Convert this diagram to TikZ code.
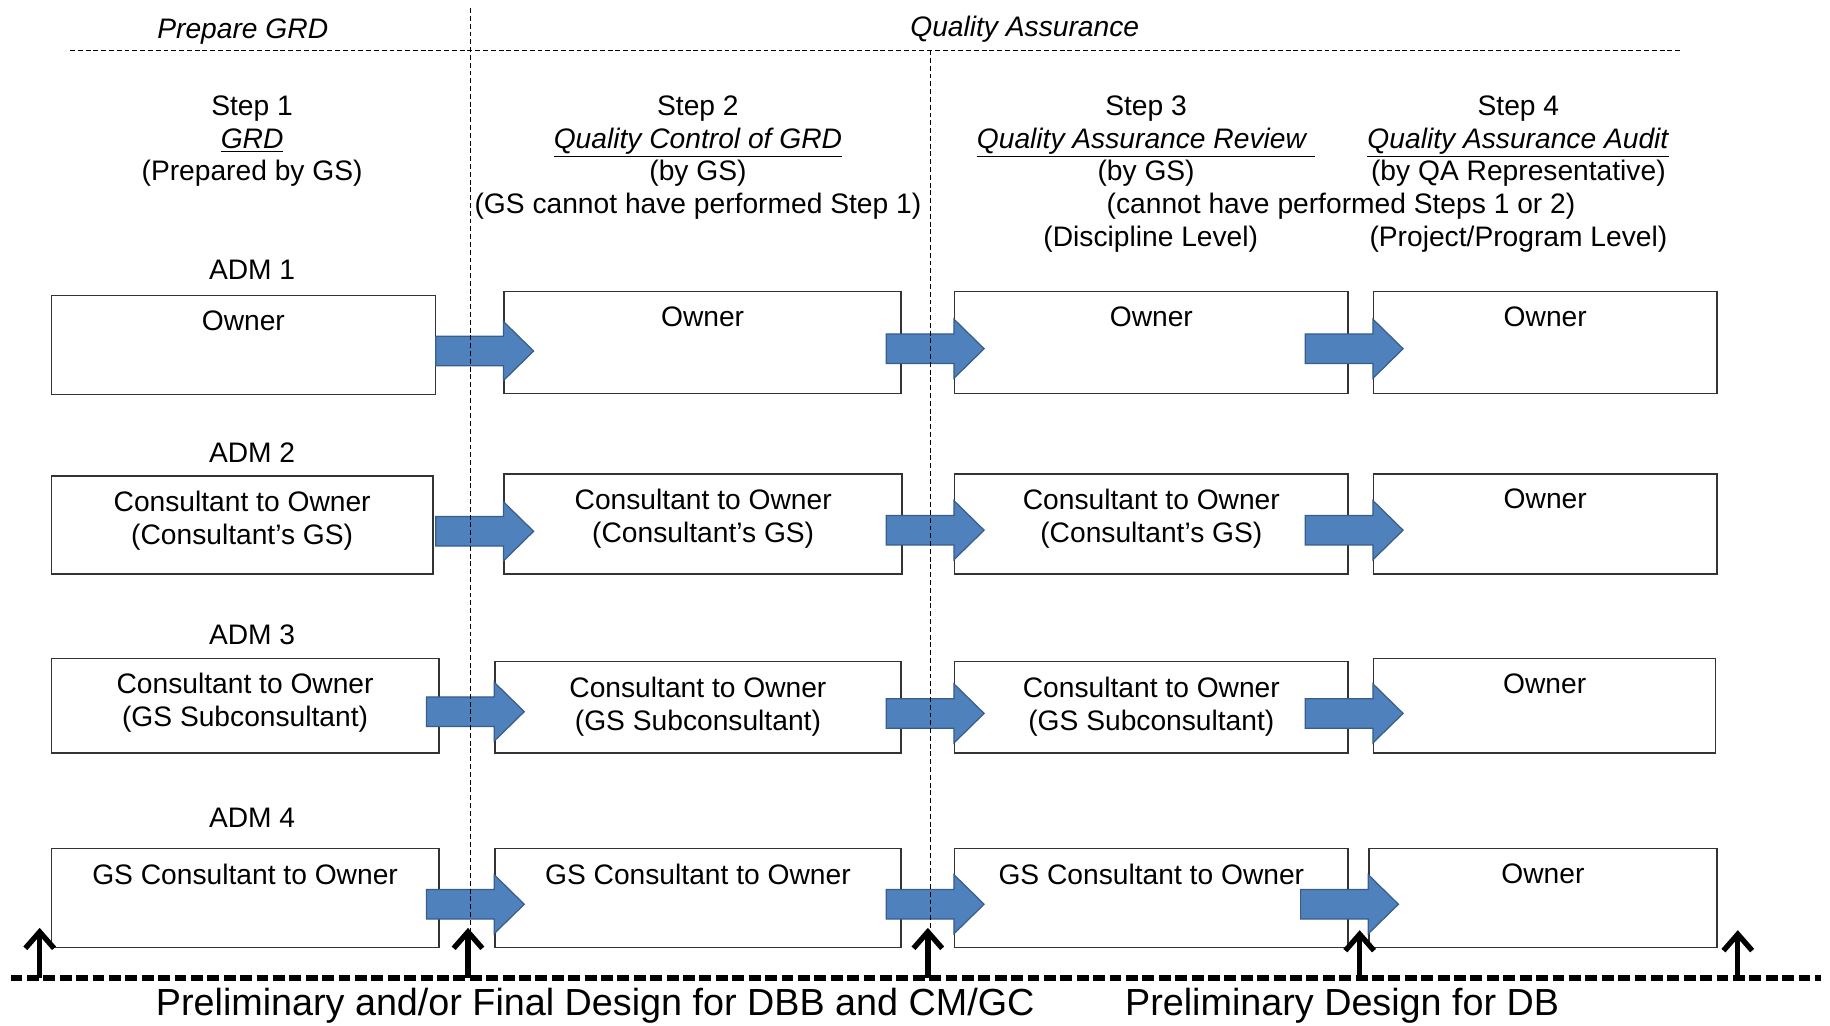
\documentclass[tikz,border=0pt]{standalone}
\usepackage{fontspec}
\setmainfont{Liberation Sans}
\usepackage{tikz}
\usetikzlibrary{fit,arrows.meta}

\definecolor{arrowblue}{HTML}{4F81BD}
\definecolor{arrowedge}{HTML}{385D8A}

\newcommand{\blockarrow}[2]{%
  \coordinate (ba) at ([yshift=-3pt]#1.east -| #2.west);
  \draw[barrow] ([xshift=-33pt,yshift=7.2pt]ba) -- ([yshift=7.2pt]ba) -- ([yshift=14.4pt]ba)
    -- ([xshift=14.7pt]ba) -- ([yshift=-14.4pt]ba) -- ([yshift=-7.2pt]ba)
    -- ([xshift=-33pt,yshift=-7.2pt]ba) -- cycle;
}

\begin{document}
\begin{tikzpicture}[x=0.02cm,y=-0.02cm,
    txt/.style={font=\fontsize{13.75}{15.9}\selectfont, align=center, inner sep=0pt},
    head/.style={txt, font=\fontsize{13.75}{15.9}\selectfont\itshape},
    big/.style={font=\fontsize{18.4}{22}\selectfont, inner sep=0pt},
    cell/.style={draw=black!80, line width=0.7pt, inner sep=0pt},
    celltxt/.style={txt, anchor=north, yshift=-7.6pt},
    barrow/.style={fill=arrowblue, draw=arrowedge, line width=0.6pt, line join=miter},
    thindash/.style={line width=0.6pt, dash pattern=on 2.4pt off 1.4pt},
    thickdash/.style={line width=3.2pt, dash pattern=on 5.8pt off 2.2pt},
    uparrow/.style={-{Straight Barb[length=8pt,width=14pt,line width=2.6pt]}, line width=2.6pt}]
   \useasboundingbox (0,0) rectangle (1568,879);

   \node[head] (prep) at (208,27) {Prepare GRD};
   \node[head] (qa) at (878,25) {Quality Assurance};
   \draw[thindash] (60,43) -- (1440,43);

   \node[txt] (s1) at (216,121) {Step 1\\\underline{\textit{GRD}}\\(Prepared by GS)};
   \node[txt] (s2) at (598,135) {Step 2\\\underline{\textit{Quality Control of GRD}}\\(by GS)\\(GS cannot have performed Step 1)};
   \node[txt] (s3) at (982,121) {Step 3\\\underline{\textit{Quality Assurance Review}\ }\\(by GS)};
   \node[txt] (s4) at (1301,121) {Step 4\\\underline{\textit{Quality Assurance Audit}}\\(by QA Representative)};
   \node[txt] (s34) at (1149,177) {(cannot have performed Steps 1 or 2)};
   \node[txt] (disc) at (986,205) {(Discipline Level)};
   \node[txt] (proj) at (1301,205) {(Project/Program Level)};

   \node[txt] (adm1) at (216,231) {ADM 1};
   \node[txt] (adm2) at (216,388) {ADM 2};
   \node[txt] (adm3) at (216,544) {ADM 3};
   \node[txt] (adm4) at (216,701) {ADM 4};

   % ADM 1
   \node[cell, fit={(44,253) (373,338)}] (r1c1) {};
   \node[cell, fit={(432,250) (772,337)}] (r1c2) {};
   \node[cell, fit={(818,250) (1155,337)}] (r1c3) {};
   \node[cell, fit={(1177,250) (1471,337)}] (r1c4) {};
   \node[celltxt] (t11) at (r1c1.north) {Owner};
   \node[celltxt] (t12) at (r1c2.north) {Owner};
   \node[celltxt] (t13) at (r1c3.north) {Owner};
   \node[celltxt] (t14) at (r1c4.north) {Owner};

   % ADM 2
   \node[cell, fit={(44,408) (371,492)}] (r2c1) {};
   \node[cell, fit={(432,406) (773,492)}] (r2c2) {};
   \node[cell, fit={(818,406) (1155,492)}] (r2c3) {};
   \node[cell, fit={(1177,406) (1471,492)}] (r2c4) {};
   \node[celltxt] (t21) at (r2c1.north) {Consultant to Owner\\(Consultant’s GS)};
   \node[celltxt] (t22) at (r2c2.north) {Consultant to Owner\\(Consultant’s GS)};
   \node[celltxt] (t23) at (r2c3.north) {Consultant to Owner\\(Consultant’s GS)};
   \node[celltxt] (t24) at (r2c4.north) {Owner};

   % ADM 3
   \node[cell, fit={(44,564) (376,645)}] (r3c1) {};
   \node[cell, fit={(424,567) (772,645)}] (r3c2) {};
   \node[cell, fit={(818,567) (1155,645)}] (r3c3) {};
   \node[cell, fit={(1177,564) (1470,645)}] (r3c4) {};
   \node[celltxt] (t31) at (r3c1.north) {Consultant to Owner\\(GS Subconsultant)};
   \node[celltxt] (t32) at (r3c2.north) {Consultant to Owner\\(GS Subconsultant)};
   \node[celltxt] (t33) at (r3c3.north) {Consultant to Owner\\(GS Subconsultant)};
   \node[celltxt] (t34) at (r3c4.north) {Owner};

   % ADM 4
   \node[cell, fit={(44,727) (376,812)}] (r4c1) {};
   \node[cell, fit={(424,727) (772,812)}] (r4c2) {};
   \node[cell, fit={(818,727) (1155,812)}] (r4c3) {};
   \node[cell, fit={(1173,727) (1471,812)}] (r4c4) {};
   \node[celltxt] (t41) at (r4c1.north) {GS Consultant to Owner};
   \node[celltxt] (t42) at (r4c2.north) {GS Consultant to Owner};
   \node[celltxt] (t43) at (r4c3.north) {GS Consultant to Owner};
   \node[celltxt] (t44) at (r4c4.north) {Owner};

   \blockarrow{r1c1}{r1c2}
   \blockarrow{r1c2}{r1c3}
   \blockarrow{r1c3}{r1c4}
   \blockarrow{r2c1}{r2c2}
   \blockarrow{r2c2}{r2c3}
   \blockarrow{r2c3}{r2c4}
   \blockarrow{r3c1}{r3c2}
   \blockarrow{r3c2}{r3c3}
   \blockarrow{r3c3}{r3c4}
   \blockarrow{r4c1}{r4c2}
   \blockarrow{r4c2}{r4c3}
   \blockarrow{r4c3}{r4c4}

   \draw[thindash] (403,7) -- (403,805);
   \draw[thindash] (797,43) -- (797,805);

   \draw[thickdash] (9,838) -- (1560,838);
   \coordinate (m1) at (34,838);   \coordinate (n1) at (34,795);
   \coordinate (m2) at (401,838);  \coordinate (n2) at (401,795);
   \coordinate (m3) at (795,838);  \coordinate (n3) at (795,795);
   \coordinate (m4) at (1165,838); \coordinate (n4) at (1165,797);
   \coordinate (m5) at (1489,838); \coordinate (n5) at (1489,797);
   \draw[uparrow] (m1) -- (n1);
   \draw[uparrow] (m2) -- (n2);
   \draw[uparrow] (m3) -- (n3);
   \draw[uparrow] (m4) -- (n4);
   \draw[uparrow] (m5) -- (n5);

   \node[big] (dbb) at (510,862) {Preliminary and/or Final Design for DBB and CM/GC};
   \node[big] (db) at (1150,862) {Preliminary Design for DB};
  \end{tikzpicture}
\end{document}
